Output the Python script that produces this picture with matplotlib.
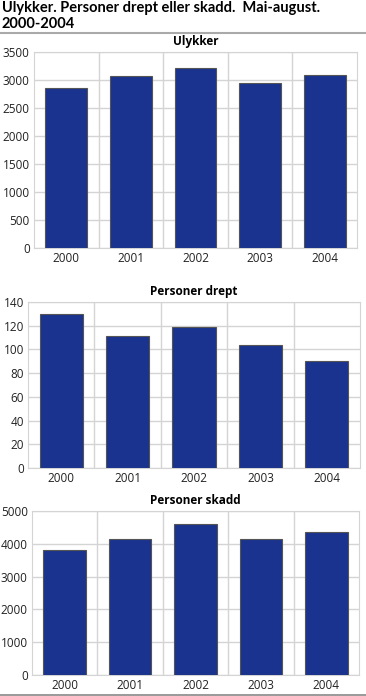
import matplotlib
matplotlib.use('Agg')
import matplotlib.pyplot as plt

plt.rcParams['font.family'] = ['Open Sans', 'DejaVu Sans']

years = ['2000', '2001', '2002', '2003', '2004']
ulykker = [2850, 3065, 3210, 2940, 3090]
drept = [130, 111, 119, 104, 90]
skadd = [3825, 4140, 4615, 4150, 4375]

W, H = 366, 696
fig = plt.figure(figsize=(W / 100, H / 100), dpi=100)

bar_col = '#1a338f'
grid_col = '#d4d4d4'


def pix_axes(left, top, right, bottom):
    return fig.add_axes([left / W, 1 - bottom / H, (right - left) / W, (bottom - top) / H])


def draw(ax, vals, title, ymax, step):
    x = range(len(years))
    ax.bar(x, vals, width=0.65, color=bar_col, edgecolor='#555555', linewidth=0.8, zorder=3)
    ax.set_xlim(-0.5, len(years) - 0.5)
    ax.set_ylim(0, ymax)
    ax.set_yticks(range(0, ymax + 1, step))
    ax.set_xticks(list(x))
    ax.set_xticklabels(years)
    ax.set_xticks([i + 0.5 for i in range(len(years) - 1)], minor=True)
    ax.grid(axis='y', which='major', color=grid_col, linewidth=1, zorder=0)
    ax.grid(axis='x', which='minor', color=grid_col, linewidth=1, zorder=0)
    ax.tick_params(which='both', length=0, labelsize=8.5, colors='#222222', pad=3)
    for s in ax.spines.values():
        s.set_color(grid_col)
    ax.set_title(title, fontsize=8.5, fontweight='bold', pad=5)


ax1 = pix_axes(34, 52, 357, 248)
draw(ax1, ulykker, 'Ulykker', 3500, 500)
ax2 = pix_axes(28, 302, 360, 468)
draw(ax2, drept, 'Personer drept', 140, 20)
ax3 = pix_axes(32, 511, 359, 675)
draw(ax3, skadd, 'Personer skadd', 5000, 1000)

fig.text(2 / W, 1 - 1 / H, 'Ulykker. Personer drept eller skadd.  Mai-august.\n2000-2004',
         fontsize=10.5, fontweight='bold', family=['Lato', 'DejaVu Sans'],
         va='top', ha='left', linespacing=1.15)
fig.add_artist(plt.Line2D([0, 1], [1 - 32.5 / H] * 2, color='#aaaaaa', linewidth=1.5))
fig.add_artist(plt.Line2D([0, 1], [1 - 695 / H] * 2, color='#888888', linewidth=1.2))

fig.savefig('out.png', dpi=100)
